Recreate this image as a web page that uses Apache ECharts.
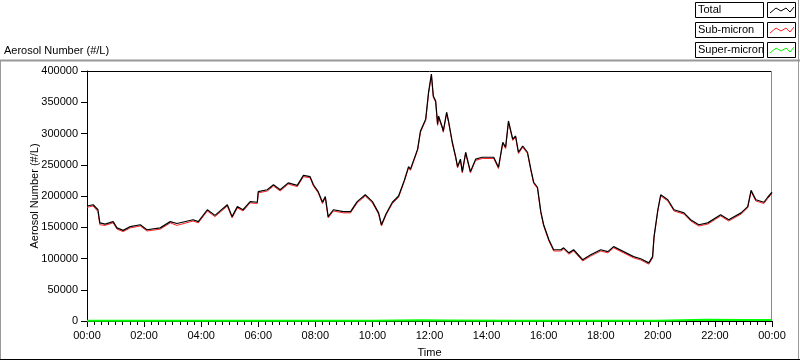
<!DOCTYPE html>
<html>
<head>
<meta charset="utf-8">
<title>Aerosol Number</title>
<script src="https://cdn.jsdelivr.net/npm/echarts@6/dist/echarts.min.js"></script>
<style>
	html, body { margin: 0; padding: 0; background: #fff; }
	#chart { width: 800px; height: 361px; }
</style>
</head>
<body>
<div id="chart"></div>
<script type="text/javascript">
	// time of day in minutes since 00:00
	var timeMinutes = [
		0, 13, 23, 27, 38, 55, 63, 76, 91, 112,
		126, 154, 175, 189, 223, 234, 253, 269, 295, 305,
		316, 328, 343, 358, 360, 379, 392, 406, 423, 442,
		455, 469, 476, 486, 495, 501, 507, 518, 539, 554,
		568, 585, 600, 613, 619, 629, 642, 655, 667, 676,
		680, 695, 701, 712, 718, 724, 728, 733, 737, 739,
		747, 749, 756, 760, 768, 775, 779, 785, 789, 796,
		806, 817, 831, 855, 865, 874, 880, 886, 895, 901,
		907, 916, 926, 933, 939, 947, 954, 960, 971, 981,
		996, 1002, 1013, 1023, 1042, 1059, 1080, 1095, 1107, 1128,
		1149, 1164, 1181, 1189, 1192, 1200, 1206, 1221, 1234, 1255,
		1269, 1286, 1305, 1332, 1349, 1375, 1389, 1396, 1406, 1423,
		1431, 1440
	];
	var total = [
		184000, 186000, 178000, 157000, 155000, 159000, 149000, 145000, 151000, 154000,
		146000, 149000, 159000, 156000, 162000, 159000, 178000, 169000, 186000, 167000,
		183000, 178000, 191000, 190000, 207000, 210000, 218000, 210000, 221000, 217000,
		233000, 231000, 218000, 207000, 190000, 199000, 167000, 178000, 175000, 175000,
		191000, 202000, 191000, 173000, 154000, 172000, 190000, 200000, 225000, 247000,
		243000, 275000, 304000, 323000, 366000, 395000, 360000, 352000, 315000, 328000,
		310000, 304000, 334000, 320000, 286000, 263000, 247000, 259000, 239000, 270000,
		239000, 259000, 262000, 262000, 246000, 286000, 278000, 320000, 291000, 296000,
		270000, 280000, 270000, 243000, 222000, 214000, 175000, 154000, 130000, 114000,
		114000, 117000, 109000, 114000, 98000, 106000, 114000, 111000, 119000, 111000,
		103000, 99600, 93000, 103000, 135000, 178000, 202000, 194000, 178000, 173000,
		162000, 154000, 157000, 170000, 162000, 173000, 183000, 209000, 194000, 190000,
		198000, 206000
	];
	var subMicron = [
		182000, 184000, 175000, 154000, 153000, 157000, 147000, 143000, 149000, 152000,
		144000, 147000, 157000, 153000, 160000, 157000, 176000, 167000, 184000, 165000,
		181000, 176000, 189000, 188000, 205000, 208000, 216000, 208000, 219000, 215000,
		231000, 229000, 216000, 205000, 188000, 197000, 165000, 176000, 173000, 173000,
		189000, 200000, 189000, 171000, 152000, 170000, 188000, 198000, 223000, 245000,
		241000, 273000, 302000, 321000, 364000, 393000, 358000, 350000, 313000, 326000,
		308000, 302000, 332000, 318000, 284000, 261000, 245000, 257000, 237000, 268000,
		237000, 257000, 260000, 260000, 244000, 284000, 276000, 318000, 289000, 294000,
		268000, 278000, 268000, 241000, 220000, 212000, 173000, 152000, 128000, 112000,
		112000, 115000, 107000, 112000, 96000, 104000, 112000, 109000, 117000, 109000,
		101000, 97600, 91000, 101000, 133000, 176000, 200000, 192000, 176000, 171000,
		160000, 152000, 155000, 168000, 160000, 171000, 181000, 207000, 192000, 188000,
		196000, 204000
	];
	var superTimes = [0, 200, 400, 600, 700, 760, 900, 1100, 1199, 1201, 1300, 1380, 1440];
	var superMicron = [300, 400, 300, 500, 1200, 900, 300, 300, 300, 1600, 1900, 1500, 1700];
	var seriesNames = ['Total', 'Sub-micron', 'Super-micron'];
	var seriesColors = ['#000000', '#ff2020', '#00ff00'];
	var xTickHours = [0, 2, 4, 6, 8, 10, 12, 14, 16, 18, 20, 22, 24];

	function pairs(xs, ys) {
		return xs.map(function (x, i) { return [x, ys[i]]; });
	}
	function pad(n) { return (n < 10 ? '0' : '') + n; }

	var font = 'Liberation Sans';
	var graphics = [
		// panel frame
		{ type: 'line', shape: { x1: 0, y1: 60.5, x2: 800, y2: 60.5 }, style: { stroke: '#999', lineWidth: 2 } },
		{ type: 'line', shape: { x1: 0.5, y1: 60, x2: 0.5, y2: 360 }, style: { stroke: '#999', lineWidth: 1 } },
		{ type: 'line', shape: { x1: 798.5, y1: 0, x2: 798.5, y2: 360 }, style: { stroke: '#999', lineWidth: 1 } },
		{ type: 'line', shape: { x1: 0, y1: 359.5, x2: 800, y2: 359.5 }, style: { stroke: '#000', lineWidth: 1 } },
		// plot border top and right
		{ type: 'line', shape: { x1: 87, y1: 71.5, x2: 772, y2: 71.5 }, style: { stroke: '#000', lineWidth: 1 } },
		{ type: 'line', shape: { x1: 771.5, y1: 71, x2: 771.5, y2: 321 }, style: { stroke: '#888', lineWidth: 1 } },
		{ type: 'text', left: 4, top: 45, style: { text: 'Aerosol Number (#/L)', font: '11px ' + font, fill: '#000' } }
	];
	seriesNames.forEach(function (name, i) {
		var y = 2 + i * 20;
		graphics.push({ type: 'rect', shape: { x: 695.5, y: y + 0.5, width: 68, height: 15 }, style: { fill: '#fff', stroke: '#000', lineWidth: 1 } });
		graphics.push({ type: 'text', left: 698, top: y + 2, style: { text: name, font: '11px ' + font, fill: '#000' } });
		graphics.push({ type: 'rect', shape: { x: 767.5, y: y + 0.5, width: 28, height: 15 }, style: { fill: '#fff', stroke: '#000', lineWidth: 1 } });
		graphics.push({ type: 'polyline', shape: { points: [[770, y + 11], [776, y + 6], [781, y + 9], [786, y + 6], [790, y + 10], [794, y + 5]] }, style: { stroke: seriesColors[i], lineWidth: 1, fill: null } });
	});

	var option = {
		animation: false,
		backgroundColor: '#fff',
		grid: { left: 87, right: 28, top: 71, bottom: 40, outerBoundsMode: 'none', containLabel: false },
		xAxis: {
			type: 'value',
			min: 0,
			max: 1440,
			interval: 120,
			name: 'Time',
			nameLocation: 'middle',
			nameGap: 26,
			nameMoveOverlap: false,
			nameTextStyle: { color: '#000', fontFamily: font, fontSize: 11 },
			axisLine: { show: true, lineStyle: { color: '#000', width: 1 } },
			axisTick: { show: true, length: 6, lineStyle: { color: '#000' } },
			minorTick: { show: true, splitNumber: 8, length: 4, lineStyle: { color: '#000' } },
			splitLine: { show: false },
			axisLabel: {
				margin: 9,
				color: '#000',
				fontFamily: font,
				fontSize: 11,
				formatter: function (v) { return pad(xTickHours[Math.round(v / 120)] % 24) + ':00'; }
			}
		},
		yAxis: {
			type: 'value',
			min: 0,
			max: 400000,
			interval: 50000,
			name: 'Aerosol Number (#/L)',
			nameLocation: 'middle',
			nameGap: 47,
			nameMoveOverlap: false,
			nameTextStyle: { color: '#000', fontFamily: font, fontSize: 11 },
			axisLine: { show: true, lineStyle: { color: '#000', width: 1 } },
			axisTick: { show: true, length: 6, lineStyle: { color: '#000' } },
			splitLine: { show: false },
			axisLabel: { margin: 9, color: '#000', fontFamily: font, fontSize: 11, formatter: function (v) { return String(v); } }
		},
		series: [
			{
				name: 'Sub-micron', type: 'line', z: 2, symbol: 'none',
				lineStyle: { color: seriesColors[1], width: 1 },
				data: pairs(timeMinutes, subMicron)
			},
			{
				name: 'Super-micron', type: 'line', z: 3, symbol: 'none',
				lineStyle: { color: seriesColors[2], width: 2 },
				data: pairs(superTimes, superMicron)
			},
			{
				name: 'Total', type: 'line', z: 4, symbol: 'none',
				lineStyle: { color: seriesColors[0], width: 1.2 },
				data: pairs(timeMinutes, total)
			}
		],
		graphic: graphics
	};
	var myChart = echarts.init(document.getElementById('chart'), null, { renderer: 'canvas' });
	myChart.setOption(option);
</script>
</body>
</html>
